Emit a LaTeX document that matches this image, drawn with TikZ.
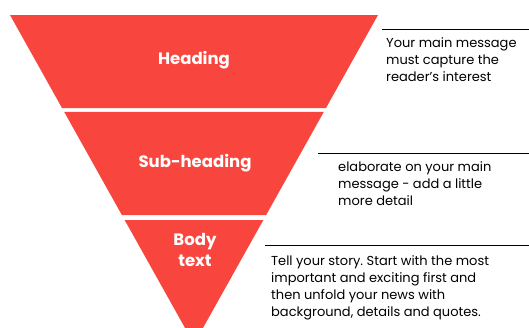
\documentclass[tikz,border=0pt]{standalone}
\usepackage{fontspec}
\setmainfont{Poppins}
\usetikzlibrary{calc,positioning}
\definecolor{funnelred}{HTML}{F8453D}
\frenchspacing

\begin{document}
\begin{tikzpicture}[
			x=1pt, y=-1pt,
			band/.style={fill=funnelred},
			title/.style={text=white, font=\bfseries\fontsize{16.5}{21}\selectfont, align=center, inner sep=0pt},
			note/.style={font=\fontsize{13}{17}\selectfont, align=left, anchor=base west, inner sep=0pt},
			rule/.style={line width=0.9pt}
			]
			\useasboundingbox (0,0) rectangle (529,327);
			% Funnel corners
			\coordinate (tl) at (10,15);
			\coordinate (tr) at (378,15);
			\coordinate (apex) at (194,344);
			% The three bands
			\begin{scope}
				\clip (0,0) rectangle (529,327);
				\fill[band] (tl) -- (tr) -- ($(tr)!0.2827!(apex)$) -- ($(tl)!0.2827!(apex)$) -- cycle;
				\fill[band] ($(tl)!0.2948!(apex)$) -- ($(tr)!0.2948!(apex)$) -- ($(tr)!0.6079!(apex)$) -- ($(tl)!0.6079!(apex)$) -- cycle;
				\fill[band] ($(tl)!0.6231!(apex)$) -- ($(tr)!0.6231!(apex)$) -- (apex) -- cycle;
			\end{scope}
			% Labels in the funnel
			\node[title] (heading) at (194,60) {Heading};
			\node[title] (subheading) at (195,163) {Sub-heading};
			\node[title] (body) at (195,250) {Body\\text};
			% Rules on the right
			\draw[rule] (382,29) -- (529,29);
			\draw[rule] (318,153) -- (529,153);
			\draw[rule] (265,245) -- (529,245);
			% Notes (anchored at the baseline of the last line)
			\node[note] (note1) at (386,81) {Your main message\\must capture the\\reader's interest};
			\node[note] (note2) at (338,205) {elaborate on your main\\message - add a little\\more detail};
			\node[note] (note3) at (271,316) {Tell your story. Start with the most\\important and exciting first and\\then unfold your news with\\background, details and quotes.};
\end{tikzpicture}
\end{document}
